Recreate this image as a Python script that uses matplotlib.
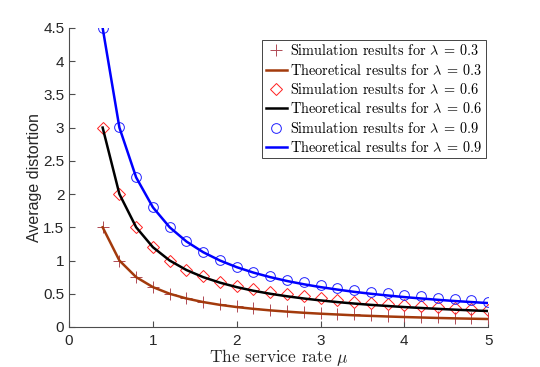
import matplotlib
matplotlib.use('Agg')
import matplotlib.pyplot as plt

# taxa de servico mu
mu = [0.4, 0.6, 0.8, 1.0, 1.2, 1.4, 1.6, 1.8, 2.0, 2.2, 2.4, 2.6,
      2.8, 3.0, 3.2, 3.4, 3.6, 3.8, 4.0, 4.2, 4.4, 4.6, 4.8, 5.0]

teo_03 = [1.5, 1.0, 0.75, 0.6, 0.5, 0.429, 0.375, 0.333, 0.3, 0.273, 0.25, 0.231,
          0.214, 0.2, 0.188, 0.176, 0.167, 0.158, 0.15, 0.143, 0.136, 0.130, 0.125, 0.12]
teo_06 = [3.0, 2.0, 1.5, 1.2, 1.0, 0.857, 0.75, 0.667, 0.6, 0.545, 0.5, 0.462,
          0.429, 0.4, 0.375, 0.353, 0.333, 0.316, 0.3, 0.286, 0.273, 0.261, 0.25, 0.24]
teo_09 = [4.5, 3.0, 2.25, 1.8, 1.5, 1.286, 1.125, 1.0, 0.9, 0.818, 0.75, 0.692,
          0.643, 0.6, 0.563, 0.529, 0.5, 0.474, 0.45, 0.429, 0.409, 0.391, 0.375, 0.36]

sim_03 = [1.5, 1.0, 0.75, 0.6, 0.5, 0.43, 0.38, 0.34, 0.31, 0.28, 0.26, 0.24,
          0.22, 0.21, 0.20, 0.19, 0.18, 0.17, 0.16, 0.15, 0.15, 0.14, 0.13, 0.13]
sim_06 = [3.0, 2.0, 1.5, 1.2, 1.0, 0.86, 0.76, 0.68, 0.62, 0.57, 0.52, 0.49,
          0.46, 0.43, 0.40, 0.38, 0.36, 0.34, 0.33, 0.31, 0.30, 0.29, 0.27, 0.25]
sim_09 = [4.5, 3.01, 2.25, 1.81, 1.5, 1.29, 1.13, 1.01, 0.91, 0.83, 0.77, 0.71,
          0.67, 0.63, 0.58, 0.56, 0.53, 0.51, 0.48, 0.46, 0.44, 0.42, 0.40, 0.38]

plt.rcParams['mathtext.fontset'] = 'cm'
plt.rcParams['axes.unicode_minus'] = False

fig = plt.figure(figsize=(5.4, 3.67), dpi=100)
ax = fig.add_axes([0.128, 0.109, 0.776, 0.815])

marrom = '#a33a0c'
ax.plot(mu, sim_03, '+', color='#b04a55', ms=8, mew=0.7, label=r'Simulation results for $\lambda\:=\:0.3$')
ax.plot(mu, teo_03, '-', color=marrom, lw=1.8, label=r'Theoretical results for $\lambda\:=\:0.3$')
ax.plot(mu, sim_06, 'D', color='#ff2020', mfc='none', ms=6, mew=0.7, label=r'Simulation results for $\lambda\:=\:0.6$')
ax.plot(mu, teo_06, '-', color='black', lw=1.8, label=r'Theoretical results for $\lambda\:=\:0.6$')
ax.plot(mu, sim_09, 'o', color='#2020ff', mfc='none', ms=7, mew=0.7, label=r'Simulation results for $\lambda\:=\:0.9$')
ax.plot(mu, teo_09, '-', color='#0000ff', lw=1.8, label=r'Theoretical results for $\lambda\:=\:0.9$')

ax.set_xlim(0, 5)
ax.set_ylim(0, 4.5)
ax.set_xticks([0, 1, 2, 3, 4, 5])
ax.set_yticks([0, 0.5, 1, 1.5, 2, 2.5, 3, 3.5, 4, 4.5])
ax.set_yticklabels(['0', '0.5', '1', '1.5', '2', '2.5', '3', '3.5', '4', '4.5'])

for lado in ['top', 'right']:
    ax.spines[lado].set_visible(False)
for lado in ['left', 'bottom']:
    ax.spines[lado].set_color('#4d4d4d')
    ax.spines[lado].set_linewidth(0.8)
ax.tick_params(direction='in', length=4, colors='#4d4d4d', labelsize=11, labelcolor='#262626')
ax.tick_params(axis='x', pad=5)
for t in ax.get_xticklabels() + ax.get_yticklabels():
    t.set_family('Liberation Sans')

ax.set_xlabel(r'The service rate $\mu$', family='cmr10', fontsize=12.5, color='#262626', labelpad=-1)
ax.set_ylabel('Average distortion', family='Liberation Sans', fontsize=11.5, color='#262626', labelpad=1)

leg = ax.legend(loc='upper right', bbox_to_anchor=(0.995, 0.96), prop={'family': 'cmr10', 'size': 10.3},
                handlelength=1.5, handletextpad=0.2, borderpad=0.25, labelspacing=0.3,
                fancybox=False, framealpha=1, borderaxespad=0.0)
leg.get_frame().set_edgecolor('#262626')
leg.get_frame().set_linewidth(0.6)

fig.savefig('out.png', dpi=100)
